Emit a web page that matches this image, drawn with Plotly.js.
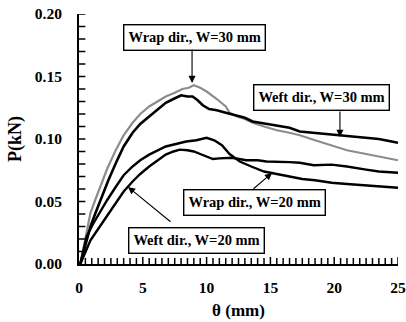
<!DOCTYPE html>
<html>
<head>
<meta charset="utf-8">
<script src="https://cdn.plot.ly/plotly-3.0.1.min.js"></script>
<style>html,body{margin:0;padding:0;background:#fff;}#chart{width:406px;height:322px;}</style>
</head>
<body>
<div id="chart"></div>
<script>
// Wrap dir., W=30 mm (gray)
const wrap30X = [0.1,0.5,0.9,1.3,1.7,2.2,2.9,3.5,4.2,4.8,5.5,6.2,6.8,7.5,8.1,8.6,9.0,9.5,10.0,10.8,11.5,11.8,12.4,13.0,13.6,14.5,15.5,16.5,17.3,18.5,19.8,21.0,22.0,23.0,24.0,25.0];
const wrap30Y = [0.000,0.020,0.041,0.052,0.063,0.076,0.0915,0.103,0.113,0.120,0.126,0.130,0.134,0.137,0.140,0.141,0.143,0.141,0.138,0.132,0.126,0.121,0.118,0.116,0.113,0.110,0.107,0.105,0.103,0.099,0.095,0.091,0.089,0.087,0.085,0.083];
// Weft dir., W=30 mm
const weft30X = [0.1,0.5,0.9,1.3,1.7,2.3,2.9,3.5,4.2,4.8,5.5,6.2,6.8,7.4,8.0,8.5,8.9,9.3,9.7,10.2,10.8,11.5,12.2,13.0,13.6,14.2,14.8,15.5,16.5,17.3,18.3,19.3,20.4,21.5,22.5,23.5,24.5,25.0];
const weft30Y = [0.000,0.015,0.030,0.041,0.052,0.067,0.081,0.094,0.105,0.112,0.118,0.124,0.129,0.132,0.135,0.134,0.134,0.131,0.127,0.124,0.123,0.121,0.119,0.117,0.114,0.113,0.112,0.111,0.109,0.106,0.105,0.104,0.103,0.102,0.101,0.100,0.098,0.097];
// Wrap dir., W=20 mm
const wrap20X = [0.1,0.6,1.1,1.6,2.2,2.9,3.5,4.2,4.8,5.5,6.2,6.8,7.6,8.4,9.2,10.0,10.6,11.2,11.8,12.6,13.5,14.5,15.5,16.5,17.5,18.5,19.8,21.0,22.3,23.5,25.0];
const wrap20Y = [0.000,0.022,0.032,0.041,0.051,0.062,0.071,0.078,0.083,0.0875,0.091,0.094,0.096,0.098,0.099,0.101,0.099,0.095,0.088,0.082,0.078,0.074,0.072,0.070,0.068,0.067,0.065,0.064,0.063,0.062,0.061];
// Weft dir., W=20 mm
const weft20X = [0.1,0.5,0.9,1.3,1.7,2.3,2.9,3.5,4.2,4.8,5.5,6.2,6.8,7.4,7.9,8.5,9.0,9.5,10.0,10.5,11.0,11.5,12.0,13.1,14.0,14.7,15.5,16.5,17.3,18.4,19.8,21.0,22.5,23.5,25.0];
const weft20Y = [0.000,0.010,0.019,0.025,0.031,0.040,0.049,0.058,0.066,0.072,0.078,0.083,0.0875,0.090,0.0915,0.091,0.090,0.088,0.086,0.084,0.0845,0.085,0.085,0.083,0.083,0.082,0.082,0.0815,0.081,0.079,0.0795,0.078,0.0755,0.074,0.073];

const labels = ["Wrap dir., W=30 mm","Weft dir., W=30 mm","Wrap dir., W=20 mm","Weft dir., W=20 mm"];
// label box centers and arrow [tailX, tailY, headX, headY]
const boxX = [9.09, 19.04, 13.79, 9.17];
const boxY = [0.1816, 0.1336, 0.0496, 0.0192];
const arrows = [[8.86,0.1728,8.86,0.1448],[20.45,0.1232,20.45,0.1016],[13.56,0.0592,15.13,0.0728],[7.29,0.0328,3.84,0.0616]];

const fontFam = '"Liberation Serif", "Times New Roman", serif';
const traces = [
  {x: wrap30X, y: wrap30Y, mode:'lines', line:{color:'#8c8c8c', width:2.2}, name: labels[0]},
  {x: weft30X, y: weft30Y, mode:'lines', line:{color:'#000', width:2.6}, name: labels[1]},
  {x: wrap20X, y: wrap20Y, mode:'lines', line:{color:'#000', width:2.4}, name: labels[2]},
  {x: weft20X, y: weft20Y, mode:'lines', line:{color:'#000', width:2.4}, name: labels[3]}
];

const annotations = [];
for (let i = 0; i < labels.length; i++) {
  annotations.push({x: boxX[i], y: boxY[i], xref:'x', yref:'y', text: labels[i], showarrow:false,
    font:{family: fontFam, size:14.5, color:'#000', weight:'bold'}, bordercolor:'#000', borderwidth:1.4, borderpad:4, bgcolor:'#fff'});
  const a = arrows[i];
  annotations.push({x: a[2], y: a[3], xref:'x', yref:'y', ax: a[0], ay: a[1], axref:'x', ayref:'y', text:'',
    showarrow:true, arrowhead:2, arrowsize:1.3, arrowwidth:1.1, arrowcolor:'#000'});
}

// inside tick marks drawn as shapes (every 0.5 on x, every 0.01 on y)
const shapes = [];
for (let k = 1; k <= 50; k++) {
  const v = k * 0.5;
  shapes.push({type:'line', xref:'x', x0:v, x1:v, yref:'y', ysizemode:'pixel', yanchor:0, y0:0, y1:(k % 10 === 0 ? 7 : 6),
    line:{color:'#000', width:1.5}});
}
for (let k = 1; k <= 20; k++) {
  const v = k / 100;
  shapes.push({type:'line', yref:'y', y0:v, y1:v, xref:'paper', x0:0, x1:0.02,
    line:{color:'#000', width:1.5}});
}

const layout = {
  width:406, height:322,
  margin:{l:79, r:8, t:14, b:58},
  paper_bgcolor:'#fff', plot_bgcolor:'#fff',
  showlegend:false,
  font:{family: fontFam, color:'#000'},
  xaxis:{range:[0,25], dtick:5, tick0:0, showgrid:false, zeroline:false, showline:true, linecolor:'#000', linewidth:2,
    ticks:'', tickfont:{family: fontFam, size:15.5, weight:'bold'}, ticklabelstandoff:8,
    title:{text:'θ (mm)', font:{family: fontFam, size:17, weight:'bold'}, standoff:10}},
  yaxis:{range:[0,0.2], dtick:0.05, tick0:0, tickformat:'.2f', showgrid:false, zeroline:false, showline:true, linecolor:'#000', linewidth:2,
    ticks:'', tickfont:{family: fontFam, size:15.5, weight:'bold'}, ticklabelstandoff:12,
    title:{text:'P(kN)', font:{family: fontFam, size:18, weight:'bold'}, standoff:8}},
  shapes: shapes,
  annotations: annotations
};

Plotly.newPlot('chart', traces, layout, {displayModeBar:false, staticPlot:true});
</script>
</body>
</html>
